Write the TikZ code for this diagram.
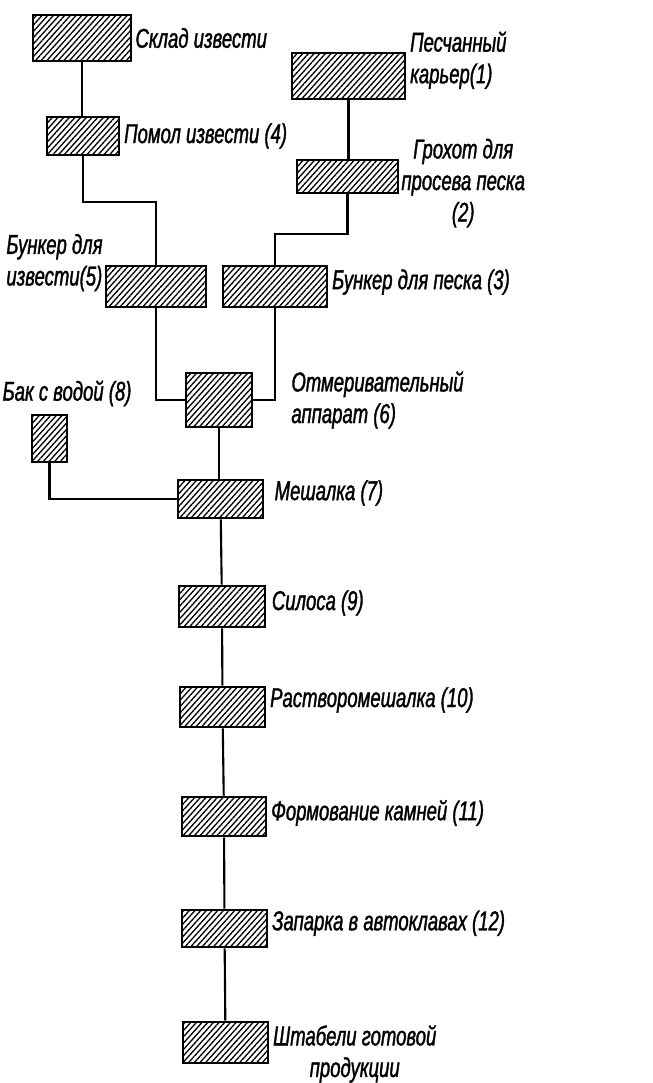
\documentclass[tikz,border=0pt]{standalone}
\usepackage{fontspec}
\newfontfamily\lblfont{Liberation Sans}[FakeStretch=0.68, FakeBold=1.3]
\usetikzlibrary{positioning,patterns.meta}

\tikzset{
    blk/.style 2 args={draw, line width=1.5pt, inner sep=0pt, minimum width=#1cm, minimum height=#2cm,
        pattern={Lines[angle=48,distance=2.4pt,line width=0.75pt]}},
    lbl/.style={font={\lblfont\fontsize{15.5}{18}\selectfont\itshape}, inner sep=0pt, align=left},
    conn/.style={line width=1.2pt}
}

\begin{document}
\begin{tikzpicture}[x=0.02cm, y=-0.02cm]
    \useasboundingbox (0,0) rectangle (653,1083);
    % lime line
    \node[blk={1.96}{0.92}] (sklad) at (82,38) {};
    \node[blk={1.44}{0.76}] (pomol) at (83,136) {};
    \node[blk={2.00}{0.82}] (bunk5) at (156,286.5) {};
    % sand line
    \node[blk={2.26}{0.92}] (karier) at (348.5,76) {};
    \node[blk={2.02}{0.66}] (grokhot) at (347.5,176.5) {};
    \node[blk={2.08}{0.82}] (bunk3) at (275,286.5) {};
    % main line
    \node[blk={1.32}{1.08}] (otmer) at (219,400) {};
    \node[blk={0.70}{0.94}] (bak) at (49.5,438.5) {};
    \node[blk={1.70}{0.76}] (mesh) at (220.5,499) {};
    \node[blk={1.72}{0.82}] (silos) at (222,606.5) {};
    \node[blk={1.70}{0.80}] (rastvor) at (222.5,707) {};
    \node[blk={1.68}{0.78}] (formov) at (224,816.5) {};
    \node[blk={1.70}{0.74}] (zaparka) at (224.5,928.5) {};
    \node[blk={1.70}{0.82}] (shtab) at (225.5,1042.5) {};

    \node[lbl, right=2pt of sklad] (sklad-l) {Склад извести};
    \node[lbl, right=2pt of pomol] (pomol-l) {Помол извести (4)};
    \node[lbl, right=2pt of karier, yshift=9pt] (karier-l) {Песчанный\\карьер(1)};
    \node[lbl, right=1pt of grokhot, yshift=-3.7pt, align=center] (grokhot-l) {Грохот для\\просева песка\\(2)};
    \node[lbl, left=1pt of bunk5, yshift=13.6pt] (bunk5-l) {Бункер для\\извести(5)};
    \node[lbl, right=2pt of bunk3, yshift=2.5pt] (bunk3-l) {Бункер для песка (3)};
    \node[lbl, right=21.5pt of otmer] (otmer-l) {Отмеривательный\\аппарат (6)};
    \node[lbl, above=4pt of bak, xshift=10pt] (bak-l) {Бак с водой (8)};
    \node[lbl, right=5.7pt of mesh, yshift=3.4pt] (mesh-l) {Мешалка (7)};
    \node[lbl, right=3pt of silos, yshift=2pt] (silos-l) {Силоса (9)};
    \node[lbl, right=2pt of rastvor, yshift=4pt] (rastvor-l) {Растворомешалка (10)};
    \node[lbl, right=2pt of formov, yshift=2pt] (formov-l) {Формование камней (11)};
    \node[lbl, right=2pt of zaparka, yshift=3pt] (zaparka-l) {Запарка в автоклавах (12)};
    \node[lbl, right=2pt of shtab, yshift=-6.5pt, align=center] (shtab-l) {Штабели готовой\\продукции};

    \draw[conn] (sklad.south) -- (sklad.south |- pomol.north);
    \draw[conn] (pomol.south) -- ++(0,46) -| (bunk5.north);
    \draw[conn] (karier.south) -- (karier.south |- grokhot.north);
    \draw[conn] (grokhot.south) -- ++(0,40) -| (bunk3.north);
    \draw[conn] (bunk5.south) |- (otmer.west);
    \draw[conn] (bunk3.south) |- (otmer.east);
    \draw[conn] (otmer.south) -- (otmer.south |- mesh.north);
    \draw[conn] (bak.south) |- (mesh.west);
    \draw[conn] (mesh) -- (silos) -- (rastvor) -- (formov) -- (zaparka) -- (shtab);
\end{tikzpicture}
\end{document}
